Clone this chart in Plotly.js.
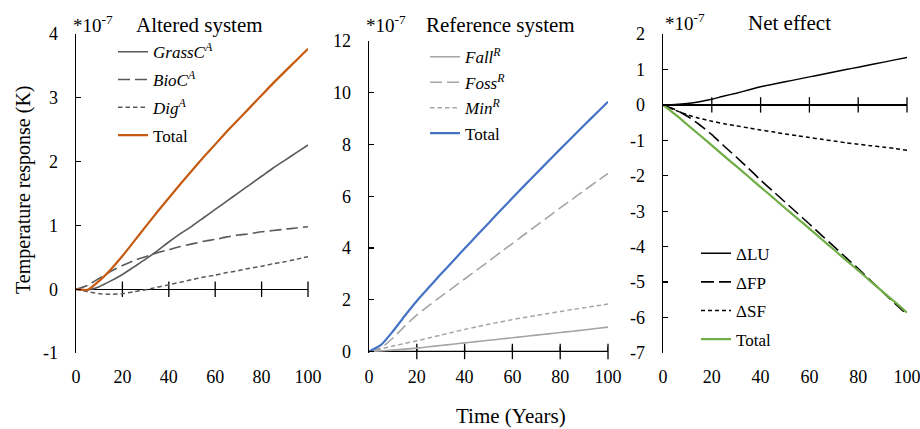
<!DOCTYPE html>
<html><head><meta charset="utf-8">
<script src="https://cdn.plot.ly/plotly-3.0.1.min.js"></script>
<style>html,body{margin:0;padding:0;background:#fff}#chart{width:920px;height:429px}</style>
</head><body><div id="chart"></div>
<script>
// ---------- data (values in units of 1e-7 K) ----------
const years = [0,5,10,15,20,25,30,35,40,45,50,55,60,65,70,75,80,85,90,95,100];

// Altered system
const grassC = [0,-0.01,0.04,0.13,0.23,0.35,0.47,0.60,0.74,0.87,0.99,1.12,1.25,1.38,1.51,1.64,1.77,1.90,2.02,2.14,2.26];
const bioC   = [0,0.06,0.17,0.28,0.37,0.45,0.51,0.57,0.62,0.67,0.71,0.75,0.78,0.82,0.85,0.87,0.90,0.92,0.94,0.96,0.98];
const digA   = [0,-0.04,-0.07,-0.08,-0.07,-0.04,-0.01,0.03,0.07,0.11,0.15,0.19,0.22,0.26,0.29,0.33,0.36,0.40,0.43,0.47,0.51];
const totalA = [0,-0.01,0.13,0.31,0.52,0.75,0.98,1.21,1.43,1.65,1.86,2.07,2.27,2.47,2.66,2.85,3.04,3.23,3.41,3.59,3.77];

// Reference system
const fallR  = [0,0.02,0.05,0.09,0.13,0.18,0.23,0.28,0.33,0.38,0.43,0.48,0.53,0.58,0.63,0.68,0.73,0.78,0.83,0.89,0.94];
const fossR  = [0,0.13,0.52,0.98,1.41,1.77,2.12,2.46,2.80,3.14,3.48,3.83,4.17,4.52,4.86,5.20,5.55,5.88,6.22,6.55,6.88];
const minR   = [0,0.10,0.21,0.31,0.41,0.52,0.63,0.74,0.85,0.95,1.05,1.14,1.23,1.31,1.39,1.47,1.54,1.62,1.69,1.76,1.83];
const totalR = [0,0.25,0.78,1.38,1.95,2.47,2.98,3.48,3.98,4.47,4.96,5.45,5.93,6.41,6.88,7.35,7.82,8.28,8.74,9.20,9.65];

// Net effect
const dLU    = [0,0.01,0.04,0.09,0.16,0.25,0.33,0.42,0.51,0.58,0.65,0.72,0.79,0.86,0.93,1.00,1.06,1.13,1.20,1.27,1.34];
const dFP    = [0,-0.13,-0.32,-0.56,-0.84,-1.16,-1.47,-1.79,-2.12,-2.43,-2.74,-3.05,-3.36,-3.68,-3.99,-4.31,-4.62,-4.95,-5.28,-5.60,-5.92];
const dSF    = [0,-0.15,-0.28,-0.38,-0.46,-0.53,-0.59,-0.65,-0.71,-0.76,-0.82,-0.87,-0.92,-0.97,-1.02,-1.07,-1.11,-1.15,-1.19,-1.23,-1.28];
const totalN = [0,-0.27,-0.56,-0.85,-1.14,-1.44,-1.73,-2.02,-2.32,-2.61,-2.91,-3.20,-3.49,-3.79,-4.08,-4.38,-4.67,-4.97,-5.27,-5.56,-5.86];

// tick labels
const xTicks = [0,20,40,60,80,100];
const xTickText = ["0","20","40","60","80","100"];
const yTicksA = [-1,0,1,2,3,4];
const yTextA = ["-1","0","1","2","3","4"];
const yTicksR = [0,2,4,6,8,10,12];
const yTextR = ["0","2","4","6","8","10","12"];
const yTicksN = [-7,-6,-5,-4,-3,-2,-1,0,1,2];
const yTextN = ["-7","-6","-5","-4","-3","-2","-1","0","1","2"];

const namesA = ["<i>GrassC<sup>A</sup></i>","<i>BioC<sup>A</sup></i>","<i>Dig<sup>A</sup></i>","Total"];
const namesR = ["<i>Fall<sup>R</sup></i>","<i>Foss<sup>R</sup></i>","<i>Min<sup>R</sup></i>","Total"];
const namesN = ["\u0394LU","\u0394FP","\u0394SF","Total"];
const titles = ["Altered system","Reference system","Net effect"];

// ---------- layout helpers ----------
const W = 920, H = 429;
const fx = p => p / W;
const fy = p => (H - p) / H;
const FONT = "Liberation Serif, Times New Roman, serif";

const panels = [
  {xpx:[76,308], ypx:[34,353], yr:[-1,4], tv:yTicksA, tt:yTextA, names:namesA, bottomAxis:false,
   series:[grassC,bioC,digA,totalA],
   styles:[{color:"#595959",width:1.6,dash:"solid"},{color:"#595959",width:1.6,dash:"12px,5px"},
           {color:"#595959",width:1.5,dash:"4.5px,3px"},{color:"#C55A11",width:2.2,dash:"solid"}],
   legX:113, legRow1:51.7, gap:2.7, title:{x:199,y:25}, exp:{x:71,y:24}},
  {xpx:[369,608], ypx:[41,353], yr:[-0.06,12], tv:yTicksR, tt:yTextR, names:namesR, bottomAxis:true,
   series:[fallR,fossR,minR,totalR],
   styles:[{color:"#A5A5A5",width:1.6,dash:"solid"},{color:"#A5A5A5",width:1.6,dash:"12px,5px"},
           {color:"#A5A5A5",width:1.5,dash:"4.5px,3px"},{color:"#4472C4",width:2.2,dash:"solid"}],
   legX:425, legRow1:56.7, gap:0.4, title:{x:500,y:25}, exp:{x:364,y:24}},
  {xpx:[663,907], ypx:[34,353], yr:[-7,2], tv:yTicksN, tt:yTextN, names:namesN, bottomAxis:false,
   series:[dLU,dFP,dSF,totalN],
   styles:[{color:"#000000",width:1.5,dash:"solid"},{color:"#000000",width:1.6,dash:"13px,5px"},
           {color:"#000000",width:1.5,dash:"4px,3px"},{color:"#70AD47",width:2.2,dash:"solid"}],
   legX:696, legRow1:253.3, gap:3.5, title:{x:789,y:23}, exp:{x:663,y:22}}
];

const layout = {
  width: W, height: H,
  margin: {l:0, r:0, t:0, b:0},
  paper_bgcolor: "#fff", plot_bgcolor: "rgba(0,0,0,0)",
  font: {family: FONT, size: 18, color: "#000"},
  showlegend: true,
  annotations: []
};
const data = [];

panels.forEach((p, i) => {
  const n = i + 1;
  const sfx = n === 1 ? "" : String(n);
  const xd = [fx(p.xpx[0]), fx(p.xpx[1])];
  const yd = [fy(p.ypx[1]), fy(p.ypx[0])];

  layout["xaxis" + sfx] = {
    domain: xd, anchor: "y" + sfx, range: [0, 100], fixedrange: true,
    tickmode: "array", tickvals: xTicks, ticktext: xTickText,
    showline: false, ticks: "", showgrid: false, zeroline: false,
    ticklabelstandoff: 11, ticklabeloverflow: "allow",
    tickfont: {family: FONT, size: 18, color: "#000"}
  };
  layout["yaxis" + sfx] = {
    domain: yd, anchor: "x" + sfx, range: p.yr, fixedrange: true,
    tickmode: "array", tickvals: p.tv, ticktext: p.tt,
    showline: true, linecolor: "#000", linewidth: 1.3,
    ticks: "inside", ticklen: 5, tickwidth: 1.3, tickcolor: "#000",
    showgrid: false, ticklabelstandoff: 13,
    zeroline: true, zerolinecolor: "#000", zerolinewidth: 1.3,
    tickfont: {family: FONT, size: 18, color: "#000"}
  };

  const legName = n === 1 ? "legend" : "legend" + n;
  layout[legName] = {
    x: fx(p.legX), y: fy(p.legRow1 - 17.55), xanchor: "left", yanchor: "top",
    bgcolor: "rgba(0,0,0,0)", borderwidth: 0, tracegroupgap: p.gap,
    traceorder: "grouped", font: {family: FONT, size: 17, color: "#000"}
  };

  // tick marks crossing the horizontal axis line at value 0
  data.push({
    type: "scatter", mode: "markers", x: xTicks.slice(1), y: xTicks.slice(1).map(() => 0),
    xaxis: "x" + sfx, yaxis: "y" + sfx, cliponaxis: false, showlegend: false, hoverinfo: "skip",
    marker: {symbol: "line-ns-open", size: 11, color: "#000", line: {color: "#000", width: 1.3}}
  });
  if (p.bottomAxis) {
    // panel whose value 0 is the bottom edge: axis line and tick marks drawn as line traces
    data.push({
      type: "scatter", mode: "lines", x: [xTicks[0], xTicks[xTicks.length - 1]], y: [0, 0],
      xaxis: "x" + sfx, yaxis: "y" + sfx, showlegend: false, hoverinfo: "skip",
      line: {color: "#000", width: 1.3}
    });
    const tickUp = (p.yr[1] - p.yr[0]) * 5 / (p.ypx[1] - p.ypx[0]);
    data.push({
      type: "scatter", mode: "lines",
      x: xTicks.slice(1).flatMap(t => [t, t, null]),
      y: xTicks.slice(1).flatMap(() => [0, tickUp, null]),
      xaxis: "x" + sfx, yaxis: "y" + sfx, showlegend: false, hoverinfo: "skip",
      line: {color: "#000", width: 1.3}
    });
  }

  p.series.forEach((s, k) => {
    data.push({
      type: "scatter", mode: "lines", x: years, y: s, name: p.names[k],
      xaxis: "x" + sfx, yaxis: "y" + sfx,
      line: {color: p.styles[k].color, width: p.styles[k].width, dash: p.styles[k].dash, shape: "spline", smoothing: 0.5},
      legend: legName, legendgroup: "g" + n + "_" + k, hoverinfo: "skip"
    });
  });

  layout.annotations.push({
    text: titles[i], xref: "paper", yref: "paper", x: fx(p.title.x), y: fy(p.title.y),
    xanchor: "center", yanchor: "middle", showarrow: false,
    font: {family: FONT, size: 21, color: "#000"}
  });
  layout.annotations.push({
    text: "*10<sup>-7</sup>", xref: "paper", yref: "paper", x: fx(p.exp.x), y: fy(p.exp.y),
    xanchor: "left", yanchor: "middle", showarrow: false,
    font: {family: FONT, size: 19, color: "#000"}
  });
});

layout.annotations.push({
  text: "Temperature response (K)", xref: "paper", yref: "paper", x: fx(23), y: fy(190),
  xanchor: "center", yanchor: "middle", textangle: -90, showarrow: false,
  font: {family: FONT, size: 20, color: "#000"}
});
layout.annotations.push({
  text: "Time (Years)", xref: "paper", yref: "paper", x: fx(511), y: fy(416),
  xanchor: "center", yanchor: "middle", showarrow: false,
  font: {family: FONT, size: 21, color: "#000"}
});

Plotly.newPlot("chart", data, layout, {displayModeBar: false, staticPlot: true});
</script>
</body></html>
